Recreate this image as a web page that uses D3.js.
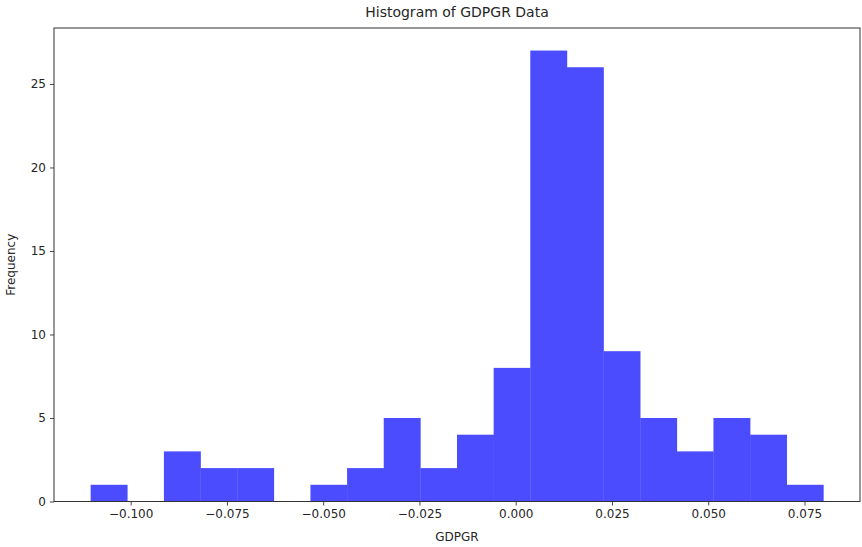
<!DOCTYPE html>
<html>
<head>
<meta charset="utf-8">
<script src="https://cdn.jsdelivr.net/npm/d3@7/dist/d3.min.js"></script>
<style>
    body { margin: 0; background: #fff; }
    text { font-family: "DejaVu Sans", sans-serif; fill: #262626; }
</style>
</head>
<body>
<svg id="chart" width="862" height="547"></svg>
<script>
'use strict';

// histogram: 20 equal bins between binMin and binMax
var binMin = -0.1104,
    binMax = 0.0799;
var counts = [1, 0, 3, 2, 2, 0, 1, 2, 5, 2, 4, 8, 27, 26, 9, 5, 3, 5, 4, 1];
var xTicks = [-0.100, -0.075, -0.050, -0.025, 0.000, 0.025, 0.050, 0.075];
var yTicks = [0, 5, 10, 15, 20, 25];

var margin = {left: 54, top: 28, right: 2, bottom: 46};
var width = 862, height = 547;

var svg = d3.select('#chart');

var binWidth = (binMax - binMin) / counts.length;
var bins = counts.map(function (c, i) {
    return {x0: binMin + i * binWidth, x1: binMin + (i + 1) * binWidth, count: c};
});

// matplotlib style 5% margins
var pad = (binMax - binMin) * 0.05;
var x = d3.scaleLinear()
    .domain([binMin - pad, binMax + pad])
    .range([margin.left, width - margin.right]);

var y = d3.scaleLinear()
    .domain([0, d3.max(counts) * 1.05])
    .range([height - margin.bottom + 0.5, margin.top]);

// blue at alpha 0.7 over white, drawn solid so neighbouring bars show no seam
svg.append('g')
    .selectAll('rect')
    .data(bins)
    .enter().append('rect')
        .attr('x', function (d) { return x(d.x0); })
        .attr('width', function (d) { return x(d.x1) - x(d.x0) + 0.3; })
        .attr('y', function (d) { return y(d.count); })
        .attr('height', function (d) { return y(0) - y(d.count); })
        .style('fill', '#4c4cff');

var xAxis = svg.append('g')
    .attr('transform', 'translate(0,' + y(0) + ')')
    .call(d3.axisBottom(x)
        .tickValues(xTicks)
        .tickSize(4)
        .tickPadding(4)
        .tickFormat(function (d) { return d3.format('.3f')(d).replace('-', '\u2212'); }));

var yAxis = svg.append('g')
    .attr('transform', 'translate(' + margin.left + ',0)')
    .call(d3.axisLeft(y)
        .tickValues(yTicks)
        .tickSize(4)
        .tickPadding(4));

[xAxis, yAxis].forEach(function (g) {
    g.select('.domain').remove();
    g.selectAll('line').attr('stroke', '#333').attr('stroke-width', 0.9);
    g.selectAll('text').style('font-size', '12px').style('fill', '#262626');
});

// frame
svg.append('rect')
    .attr('x', margin.left)
    .attr('y', margin.top)
    .attr('width', width - margin.right - margin.left)
    .attr('height', y(0) - margin.top)
    .style('fill', 'none')
    .style('stroke', '#333')
    .style('stroke-width', 1);

svg.append('text')
    .attr('x', (margin.left + width - margin.right) / 2)
    .attr('y', 17)
    .attr('text-anchor', 'middle')
    .style('font-size', '14px')
    .text('Histogram of GDPGR Data');

svg.append('text')
    .attr('x', (margin.left + width - margin.right) / 2)
    .attr('y', 541)
    .attr('text-anchor', 'middle')
    .style('font-size', '12px')
    .text('GDPGR');

svg.append('text')
    .attr('transform', 'translate(15,' + (margin.top + y(0)) / 2 + ') rotate(-90)')
    .attr('text-anchor', 'middle')
    .style('font-size', '12px')
    .text('Frequency');
</script>
</body>
</html>
